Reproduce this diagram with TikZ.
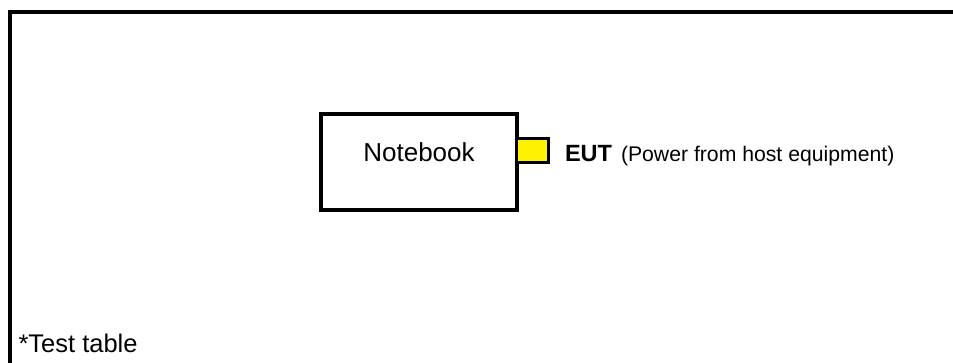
\documentclass[tikz,border=0pt]{standalone}
\usepackage{fontspec}
\setmainfont{Liberation Sans}
\begin{document}
\begin{tikzpicture}[x=1pt,y=-1pt,
  frameline/.style={line width=4pt,line cap=rect},
  boxshape/.style={draw,line width=3.5pt,inner sep=0pt,outer sep=0pt,minimum width=196pt,minimum height=96pt},
  portshape/.style={draw,fill=yellow,line width=3pt,inner sep=0pt,outer sep=0pt,minimum width=32pt,minimum height=24pt},
  lbl/.style={inner sep=0pt,outer sep=0pt}]
\useasboundingbox (0,0) rectangle (953,362);
\coordinate (fb) at (9.5,370);
\coordinate (fc) at (9.5,12);
\coordinate (fr) at (960,12);
\draw[frameline] (fb) -- (fc) -- (fr);
\node[boxshape] (nb) at (419,162) {};
\node[lbl,anchor=base,font=\fontsize{26}{30}\selectfont] (nbl) at (419,161) {Notebook};
\node[portshape] (eut) at (532.5,150.8) {};
\node[lbl,anchor=base west,font=\fontsize{23.5}{28}\selectfont\bfseries] (eutl) at (565,161) {EUT};
\node[lbl,anchor=base west,font=\fontsize{21.2}{25}\selectfont] (pwr) at (621,161) {(Power from host equipment)};
\node[lbl,anchor=base west,font=\fontsize{25.5}{30}\selectfont] (tt) at (18.5,352) {*Test table};
\end{tikzpicture}
\end{document}
